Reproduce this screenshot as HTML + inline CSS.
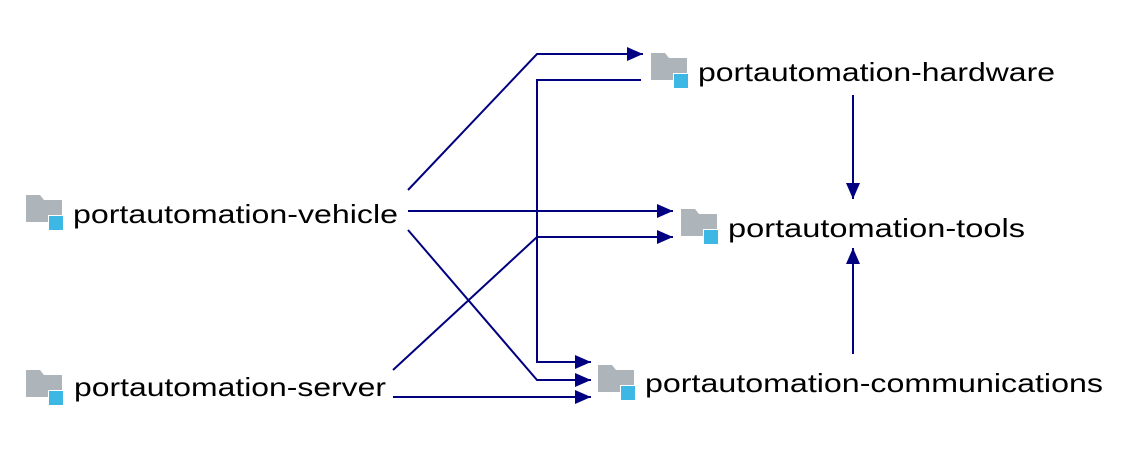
<!DOCTYPE html>
<html><head><meta charset="utf-8"><style>
html,body{margin:0;padding:0;background:#fff;}
svg{display:block;}
text{font-family:"Liberation Sans",sans-serif;font-size:26px;fill:#000;}
</style></head><body>
<svg width="1137" height="449" viewBox="0 0 1137 449" xmlns="http://www.w3.org/2000/svg">
<defs>
<g id="ic">
<path d="M0 0 H14 L18 5 H36 V27 H0 Z" fill="#adb5bb"/>
<rect x="22" y="20" width="15" height="15" fill="#ffffff"/>
<rect x="23" y="21" width="14" height="14" fill="#3db8e5"/>
</g>
<marker id="a" viewBox="0 0 16 14" refX="16" refY="7" markerWidth="16" markerHeight="14" markerUnits="userSpaceOnUse" orient="auto">
<path d="M0 0 L16 7 L0 14 Z" fill="#000080"/>
</marker>
</defs>
<use href="#ic" x="651" y="53"/>
<text x="698" y="81" textLength="357" lengthAdjust="spacingAndGlyphs">portautomation-hardware</text>
<use href="#ic" x="681" y="209"/>
<text x="728" y="237" textLength="297" lengthAdjust="spacingAndGlyphs">portautomation-tools</text>
<use href="#ic" x="26" y="195"/>
<text x="73" y="223" textLength="325" lengthAdjust="spacingAndGlyphs">portautomation-vehicle</text>
<use href="#ic" x="26" y="370"/>
<text x="74" y="396" textLength="312" lengthAdjust="spacingAndGlyphs">portautomation-server</text>
<use href="#ic" x="598" y="365"/>
<text x="645" y="392" textLength="458" lengthAdjust="spacingAndGlyphs">portautomation-communications</text>
<g fill="none" stroke="#000080" stroke-width="2">
<polyline points="408,190 537,54 643,54" marker-end="url(#a)"/>
<polyline points="641,80 537,80 537,362 591,362" marker-end="url(#a)"/>
<polyline points="408,211 673,211" marker-end="url(#a)"/>
<polyline points="393,370 537,237 673,237" marker-end="url(#a)"/>
<polyline points="408,230 537,380 591,380" marker-end="url(#a)"/>
<polyline points="393,397 591,397" marker-end="url(#a)"/>
<polyline points="853,95 853,199" marker-end="url(#a)"/>
<polyline points="853,354 853,248" marker-end="url(#a)"/>
</g>
</svg>
</body></html>
